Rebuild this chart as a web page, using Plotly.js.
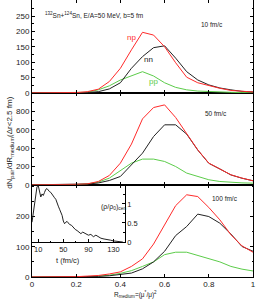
<!DOCTYPE html>
<html><head><meta charset="utf-8">
<script src="https://cdn.plot.ly/plotly-3.0.1.min.js"></script>
<style>html,body{margin:0;padding:0;background:#fff}#chart{width:256px;height:301px}</style>
</head><body><div id="chart"></div>
<script>
const R = [0,0.05,0.1,0.15,0.2,0.25,0.3,0.35,0.4,0.45,0.5,0.55,0.6,0.65,0.7,0.75,0.8,0.85,0.9,0.95,1.0];
// 10 fm/c
const np10 = [0,0,0,0.5,1,4,12,37,80,140,197,188,150,98,51,33,23,15,8,5,3];
const nn10 = [0,0,0,0,0.5,1,4,13,33,80,118,147,153,113,69,42,26,16,10,5,3];
const pp10 = [0,0,0,0,0.5,2,10,23,42,55,69,55,33,18,10,6,4,3,2,1,1];
// 50 fm/c
const np50 = [0,0,1,2,5,10,36,102,237,445,721,845,874,736,565,382,237,175,109,73,44];
const nn50 = [0,0,0,1,3,8,20,47,91,219,346,528,656,656,554,380,235,173,108,72,44];
const pp50 = [0,0,0,1,3,10,29,73,153,237,281,281,255,200,128,91,55,36,26,21,18];
// 100 fm/c
const np100 = [0,0,0,0.5,1,3,5,10,17,35,60,109,173,236,272,266,230,189,140,103,82];
const nn100 = [0,0,0,0,0.5,1,2,4,8,13,27,50,85,137,167,208,200,178,142,101,85];
const pp100 = [0,0,0,0,0.5,1,3,6,12,21,35,50,74,82,82,71,59,50,35,26,20];
// inset: central density vs time
const tInset = [0,2,4,6,8,10,12,14,16,18,20,22,24,26,28,30,32,34,36,38,40,42,44,46,48,50,52,54,56,58,60,63,66,69,72,75,78,81,84,87,90,94,98,102,106,110,115,120,125,130,135,140,145];
const rhoInset = [0.52,0.78,1.05,1.30,1.45,1.48,1.30,1.18,1.26,1.22,1.30,1.38,1.40,1.35,1.32,1.30,1.24,1.20,1.16,1.12,1.00,0.94,0.86,0.78,0.70,0.55,0.48,0.52,0.54,0.50,0.46,0.44,0.38,0.33,0.30,0.25,0.22,0.26,0.24,0.20,0.18,0.20,0.14,0.18,0.13,0.10,0.08,0.07,0.05,0.03,0.02,0.01,0.0];
const xTickVals = [0,0.2,0.4,0.6,0.8,1];
const xTickText = ["0","0.2","0.4","0.6","0.8","1"];

const RED = '#ff2a2a', BLK = '#222222', GRN = '#5ccc4a';
function tr(x, y, c, xa, ya) {
  return {x: x, y: y, xaxis: xa, yaxis: ya, type: 'scatter', mode: 'lines',
          line: {color: c, width: 1}, hoverinfo: 'skip'};
}
const data = [
  tr(R, pp10, GRN, 'x3', 'y3'), tr(R, nn10, BLK, 'x3', 'y3'), tr(R, np10, RED, 'x3', 'y3'),
  tr(R, pp50, GRN, 'x2', 'y2'), tr(R, nn50, BLK, 'x2', 'y2'), tr(R, np50, RED, 'x2', 'y2'),
  tr(R, pp100, GRN, 'x', 'y'), tr(R, nn100, BLK, 'x', 'y'), tr(R, np100, RED, 'x', 'y'),
  tr(tInset, rhoInset, BLK, 'x4', 'y4')
];
const axBase = {showline: true, linecolor: '#000', linewidth: 1, mirror: 'ticks', ticks: 'inside',
  ticklen: 3, tickcolor: '#000', zeroline: false, showgrid: false, fixedrange: true};
const d1 = [0.6646, 1], d2 = [0.3329, 0.6646], d3 = [0, 0.3329];
const layout = {
  width: 256, height: 301,
  margin: {l: 32, r: 3, t: 0, b: 24},
  paper_bgcolor: '#fff', plot_bgcolor: 'rgba(0,0,0,0)',
  showlegend: false,
  font: {family: 'Liberation Sans, Arial, sans-serif', size: 8, color: '#222'},
  xaxis: Object.assign({}, axBase, {domain: [0, 1], anchor: 'y', range: [0, 1],
    tickvals: xTickVals, ticktext: xTickText, ticklabelstandoff: -1}),
  yaxis: Object.assign({}, axBase, {domain: d3, anchor: 'x', range: [0, 305],
    tickvals: [0, 100, 200], ticktext: ["0", "100", "200"],
    minor: {ticks: 'inside', ticklen: 1.5, dtick: 50, tickcolor: '#000'}}),
  xaxis2: Object.assign({}, axBase, {domain: [0, 1], anchor: 'y2', range: [0, 1],
    tickvals: xTickVals, showticklabels: false}),
  yaxis2: Object.assign({}, axBase, {domain: d2, anchor: 'x2', range: [0, 1005],
    tickvals: [0, 200, 400, 600, 800], ticktext: ["0", "200", "400", "600", "800"],
    minor: {ticks: 'inside', ticklen: 1.5, dtick: 100, tickcolor: '#000'}}),
  xaxis3: Object.assign({}, axBase, {domain: [0, 1], anchor: 'y3', range: [0, 1],
    tickvals: xTickVals, showticklabels: false}),
  yaxis3: Object.assign({}, axBase, {domain: d1, anchor: 'x3', range: [0, 302],
    tickvals: [0, 50, 100, 150, 200, 250, 300], ticktext: ["0", "50", "100", "150", "200", "250", "300"],
    minor: {ticks: 'inside', ticklen: 1.5, dtick: 25, tickcolor: '#000'}}),
  xaxis4: {domain: [0, 0.4195], anchor: 'y4', range: [0, 148], showline: true, linecolor: '#000',
    linewidth: 1, ticks: 'inside', ticklen: 3, tickcolor: '#000', zeroline: false, showgrid: false,
    tickvals: [10, 50, 90, 130], ticktext: ["10", "50", "90", "130"], tickfont: {size: 7.5},
    minor: {ticks: 'inside', ticklen: 1.5, tickvals: [30, 70, 110], tickcolor: '#000'}},
  yaxis4: {domain: [0.1262, 0.3329], anchor: 'x4', side: 'right', range: [0, 1.5], showline: true,
    linecolor: '#000', linewidth: 1, ticks: 'inside', ticklen: 3, tickcolor: '#000', zeroline: false,
    showgrid: false, tickvals: [0, 0.5, 1], ticktext: ["0", "0.5", "1"], tickfont: {size: 7.5},
    minor: {ticks: 'inside', ticklen: 1.5, dtick: 0.25, tickcolor: '#000'}},
  annotations: [
    {xref: 'paper', yref: 'paper', x: -0.0995, y: 0.4843, textangle: -90, showarrow: false,
     xanchor: 'center', yanchor: 'middle',
     text: 'dN<sub>pair</sub>/dR<sub>medium</sub>(Δr&lt;2.5 fm)', font: {size: 8}},
    {xref: 'paper', yref: 'paper', x: 0.467, y: -0.062, showarrow: false, xanchor: 'center', yanchor: 'middle',
     text: 'R<sub>medium</sub>=(μ<sup>*</sup>/μ)<sup>2</sup>', font: {size: 6.5}},
    {xref: 'paper', yref: 'paper', x: 0.0484, y: 0.946, showarrow: false, xanchor: 'left', yanchor: 'middle',
     text: '<sup>132</sup>Sn+<sup>124</sup>Sn, E/A=50 MeV, b=5 fm', font: {size: 6.5}},
    {xref: 'x3', yref: 'y3', x: 0.45, y: 181, showarrow: false, text: 'np', font: {size: 8, color: RED}},
    {xref: 'x3', yref: 'y3', x: 0.525, y: 109, showarrow: false, text: 'nn', font: {size: 8, color: BLK}},
    {xref: 'x3', yref: 'y3', x: 0.548, y: 37, showarrow: false, text: 'pp', font: {size: 8, color: GRN}},
    {xref: 'x3', yref: 'y3', x: 0.815, y: 221, showarrow: false, text: '10 fm/c', font: {size: 6.5}},
    {xref: 'x2', yref: 'y2', x: 0.834, y: 776, showarrow: false, text: '50 fm/c', font: {size: 6.5}},
    {xref: 'x', yref: 'y', x: 0.872, y: 261, showarrow: false, text: '100 fm/c', font: {size: 6.5}},
    {xref: 'paper', yref: 'paper', x: 0.302, y: 0.232, showarrow: false,
     text: '(ρ/ρ<sub>0</sub>)<sub>cen</sub>', font: {size: 7}},
    {xref: 'paper', yref: 'paper', x: 0.1615, y: 0.062, showarrow: false, xanchor: 'center', yanchor: 'top',
     text: 't (fm/c)', font: {size: 7.5}, yshift: 6}
  ]
};
Plotly.newPlot('chart', data, layout, {staticPlot: true, displayModeBar: false});
</script></body></html>
